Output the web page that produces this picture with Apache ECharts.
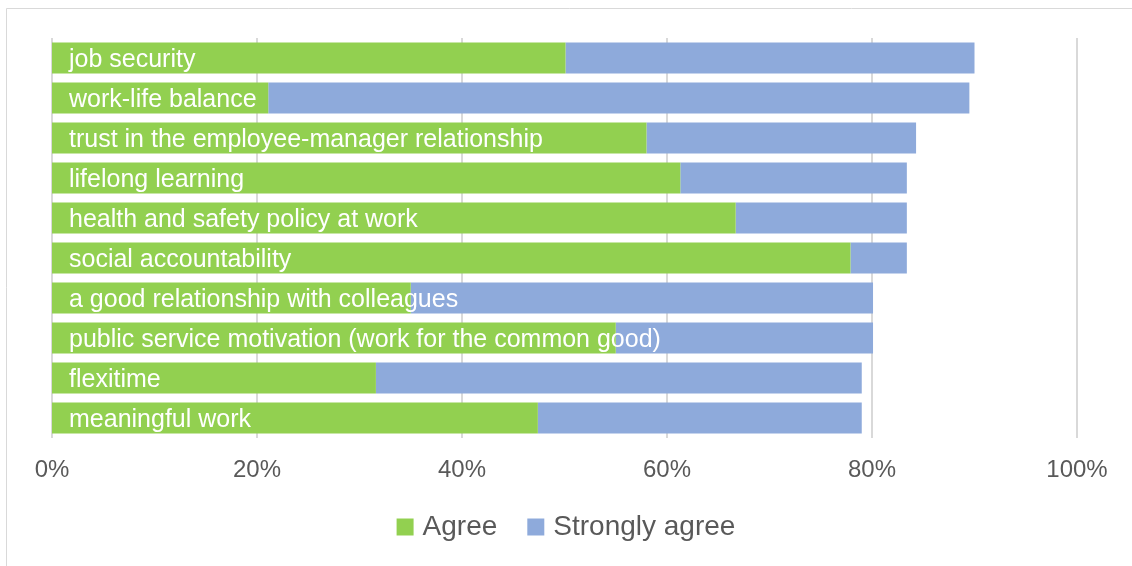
<!DOCTYPE html>
<html>
<head>
<meta charset="utf-8">
<script src="https://cdn.jsdelivr.net/npm/echarts@6/dist/echarts.min.js"></script>
<style>
  html, body { margin: 0; padding: 0; background: #fff; }
  #chart { width: 1132px; height: 566px; }
</style>
</head>
<body>
<div id="chart"></div>
<script>
// Categories, listed bottom to top (category axis runs upward)
const categories = [
  'meaningful work',
  'flexitime',
  'public service motivation (work for the common good)',
  'a good relationship with colleagues',
  'social accountability',
  'health and safety policy at work',
  'lifelong learning',
  'trust in the employee-manager relationship',
  'work-life balance',
  'job security'
];
// Share of respondents (%)
const agree =         [47.4, 31.6, 55.0, 35.0, 77.9, 66.7, 61.3, 58.0, 21.1, 50.1];
const stronglyAgree = [31.6, 47.4, 25.1, 45.1, 5.5, 16.7, 22.1, 26.3, 68.4, 39.9];
const tickValues = [0, 20, 40, 60, 80, 100];

const GREEN = '#92d050';
const BLUE = '#8eaadb';
const FONT = '"Liberation Sans", Arial, sans-serif';

const chart = echarts.init(document.getElementById('chart'), null, { renderer: 'canvas' });

chart.setOption({
  animation: false,
  backgroundColor: '#ffffff',
  graphic: [{
    type: 'rect',
    shape: { x: 6.5, y: 8.5, width: 1140, height: 600 },
    style: { fill: 'none', stroke: '#d9d9d9', lineWidth: 1 },
    silent: true
  }],
  grid: { left: 52, right: 55, top: 38, bottom: 128, containLabel: false },
  xAxis: {
    type: 'value',
    min: 0,
    max: 100,
    interval: 20,
    axisLine: { show: false },
    axisTick: { show: false },
    splitLine: { show: true, lineStyle: { color: '#d9d9d9', width: 2 } },
    axisLabel: {
      margin: 20,
      color: '#595959',
      fontSize: 24,
      fontFamily: FONT,
      formatter: v => tickValues.includes(v) ? v + '%' : ''
    }
  },
  yAxis: {
    type: 'category',
    data: categories,
    axisLine: { show: false },
    axisTick: { show: false },
    axisLabel: { show: false }
  },
  legend: {
    bottom: 20,
    left: 'center',
    itemWidth: 17,
    itemHeight: 17,
    itemGap: 30,
    icon: 'rect',
    textStyle: { color: '#595959', fontSize: 28, fontFamily: FONT, padding: [0, 0, 0, 4] },
    data: ['Agree', 'Strongly agree']
  },
  series: [
    {
      name: 'Agree',
      type: 'bar',
      stack: 'total',
      z: 3,
      barWidth: 31,
      data: agree,
      itemStyle: { color: GREEN },
      label: {
        show: true,
        position: 'insideLeft',
        distance: 17,
        offset: [0, 2],
        color: '#ffffff',
        fontSize: 25,
        fontFamily: FONT,
        formatter: p => p.name
      }
    },
    {
      name: 'Strongly agree',
      type: 'bar',
      stack: 'total',
      z: 2,
      barWidth: 31,
      data: stronglyAgree,
      itemStyle: { color: BLUE }
    }
  ]
});
</script>
</body>
</html>
